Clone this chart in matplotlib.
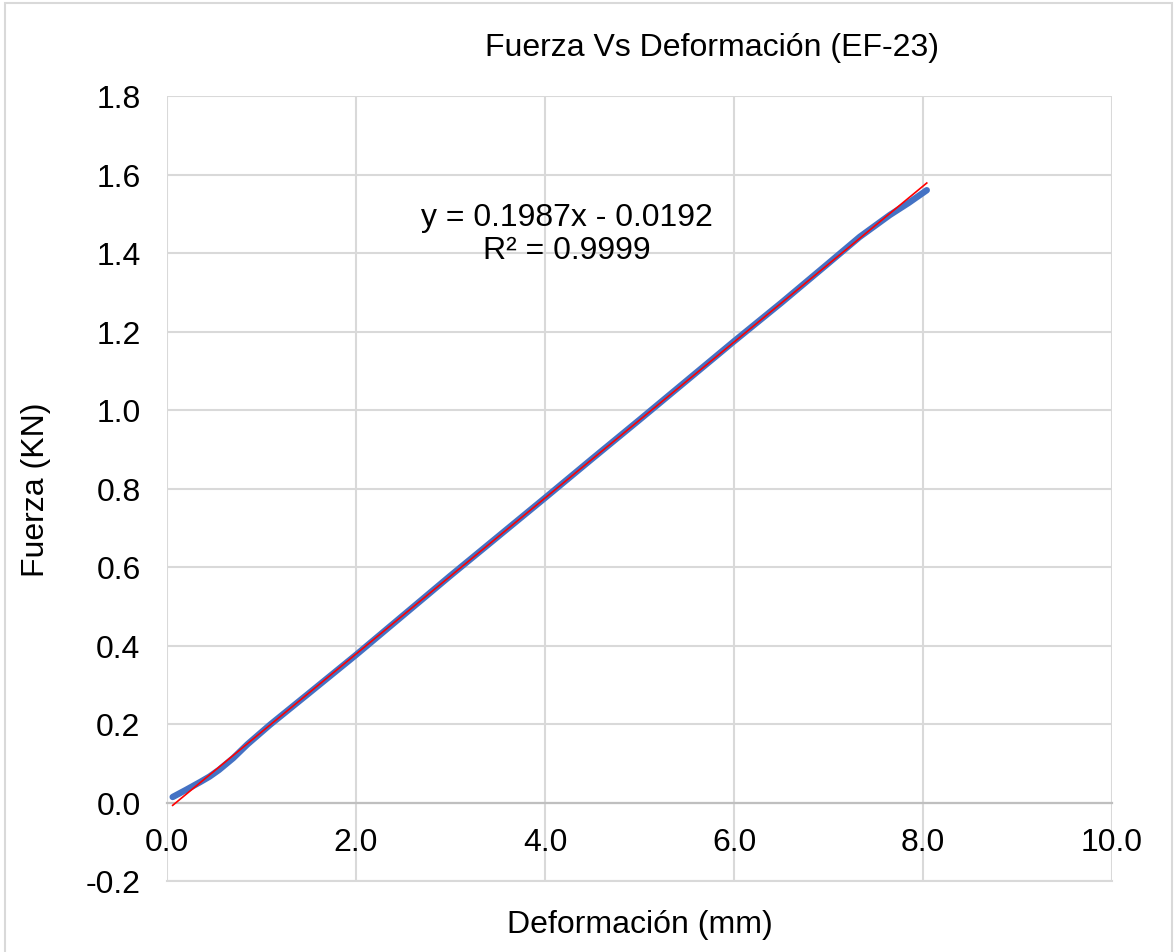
import numpy as np
import matplotlib.pyplot as plt
from matplotlib.patches import Rectangle

plt.rcParams['font.family'] = ['Liberation Sans', 'DejaVu Sans']

# Fuerza vs deformacion
deformacion = [0.06, 0.20, 0.35, 0.45, 0.55, 0.70, 0.85, 1.09, 1.50, 2.00, 2.50,
               3.00, 3.50, 4.00, 4.50, 5.00, 5.50, 6.00, 6.50, 7.00, 7.33, 7.65, 7.85, 8.04]
fuerza = [0.014, 0.032, 0.052, 0.066, 0.083, 0.113, 0.148, 0.198, 0.278, 0.376, 0.477,
          0.578, 0.677, 0.776, 0.876, 0.975, 1.075, 1.175, 1.273, 1.374, 1.441, 1.497, 1.528, 1.560]

# linear trendline from the chart label
pendiente = 0.1987
intercepto = -0.0192
x_trend = [0.06, 8.04]

fig = plt.figure(figsize=(11.74, 9.53), dpi=100)
ax = fig.add_axes([167/1174, 1 - 882/953, (1112 - 167)/1174, (882 - 97)/953])

ax.plot(deformacion, fuerza, color='#4472C4', lw=4.6, solid_capstyle='round',
        solid_joinstyle='round', zorder=3)
xt = np.array(x_trend)
ax.plot(xt, pendiente*xt + intercepto, color='#FF0000', lw=1.2, zorder=4)

ax.set_xlim(0, 10)
ax.set_ylim(-0.2, 1.8)
ax.set_xticks(np.arange(0, 10.1, 2))
ax.set_yticks(np.arange(-0.2, 1.81, 0.2))
ax.set_xticklabels([f'{v:.1f}' for v in np.arange(0, 10.1, 2)])
ax.set_yticklabels([f'{v:.1f}' for v in np.arange(-0.2, 1.81, 0.2)])
ax.grid(True, color='#d9d9d9', lw=1.5, zorder=0)
ax.set_axisbelow(True)

for s in ['top', 'right', 'left']:
    ax.spines[s].set_visible(False)
ax.spines['bottom'].set_position(('data', 0))
ax.spines['bottom'].set_color('#bfbfbf')
ax.spines['bottom'].set_linewidth(1.6)
ax.spines['bottom'].set_zorder(1)
ax.tick_params(axis='both', length=0, labelsize=23)
ax.tick_params(axis='x', pad=18)
ax.tick_params(axis='y', pad=19)
# grid line at -0.2 closes the plot area bottom
ax.axhline(-0.2, color='#d9d9d9', lw=1.5, zorder=0, clip_on=False)

ax.text(4.23, 1.45, 'y = 0.1987x - 0.0192\nR² = 0.9999', ha='center', va='center',
        fontsize=23, linespacing=1.1)

fig.text(712/1174, 1 - 48/953, 'Fuerza Vs Deformación (EF-23)', ha='center', va='center',
         fontsize=23)
fig.text(640/1174, 1 - 925/953, 'Deformación (mm)', ha='center', va='center', fontsize=23)
fig.text(36/1174, 1 - 490/953, 'Fuerza (KN)', ha='center', va='center', fontsize=23,
         rotation=90)

fig.patches.append(Rectangle((5/1174, -0.05), 1167/1174, 1.05 - 4/953, transform=fig.transFigure,
                             fill=False, edgecolor='#d9d9d9', lw=1.5))

fig.savefig('out.png', dpi=100, facecolor='white')
